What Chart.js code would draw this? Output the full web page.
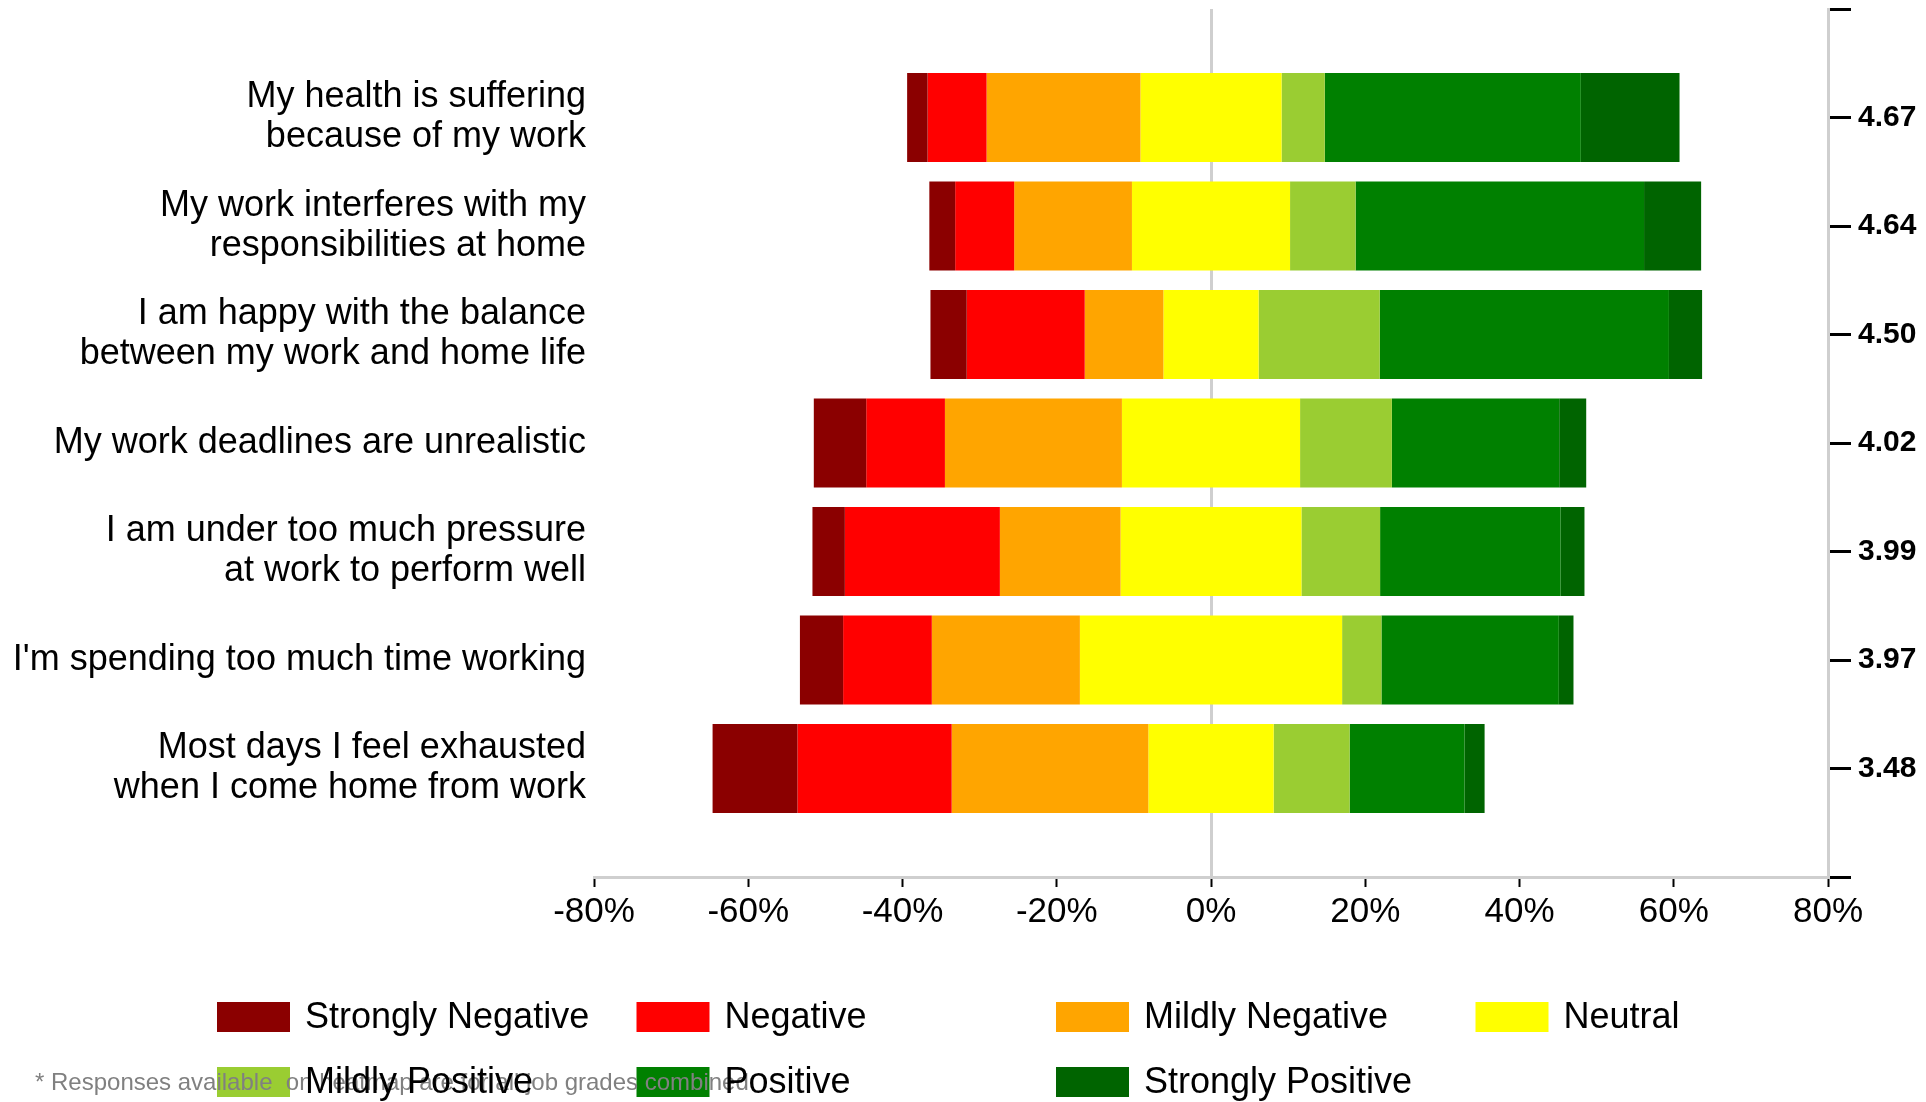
<!DOCTYPE html>
<html><head><meta charset="utf-8">
<script src="https://cdn.jsdelivr.net/npm/chart.js@4.4.1/dist/chart.umd.min.js"></script>
<style>html,body{margin:0;padding:0;background:#fff;}#wrap{position:relative;width:1926px;height:1102px;}</style>
</head><body><div id="wrap"><canvas id="c"></canvas></div>
<script>
// ---- data (top row first) ----
const categories = [
  ["My health is suffering", "because of my work"],
  ["My work interferes with my", "responsibilities at home"],
  ["I am happy with the balance", "between my work and home life"],
  "My work deadlines are unrealistic",
  ["I am under too much pressure", "at work to perform well"],
  "I'm spending too much time working",
  ["Most days I feel exhausted", "when I come home from work"]
];
const meanScores = ["4.67", "4.64", "4.50", "4.02", "3.99", "3.97", "3.48"];
const seriesNames = ["Strongly Negative", "Negative", "Mildly Negative", "Neutral", "Mildly Positive", "Positive", "Strongly Positive"];
const seriesColors = ["#8B0000", "#FF0000", "#FFA500", "#FFFF00", "#9ACD32", "#008000", "#006400"];
const stronglyNegative = [2.65, 3.35, 4.7, 6.8, 4.2, 5.6, 11.0];
const negative         = [7.65, 7.65, 15.3, 10.2, 20.1, 11.5, 20.0];
const mildlyNegative   = [19.95, 15.27, 10.2, 22.95, 15.65, 19.2, 25.5];
const neutral          = [18.3, 20.5, 12.35, 23.1, 23.45, 34.0, 16.25];
const mildlyPositive   = [5.6, 8.5, 15.7, 11.9, 10.2, 5.1, 9.85];
const positive         = [33.2, 37.4, 37.5, 21.7, 23.4, 23.0, 14.9];
const stronglyPositive = [12.8, 7.4, 4.3, 3.5, 3.1, 1.9, 2.6];
const xTickValues = [-80, -60, -40, -20, 0, 20, 40, 60, 80];
const footnote = "* Responses available  on heatmap are for all job grades combined";

// ---- build floating bars (diverging around neutral midpoint) ----
const series = [stronglyNegative, negative, mildlyNegative, neutral, mildlyPositive, positive, stronglyPositive];
const ranges = series.map(() => [null]);
categories.forEach((_, i) => {
  const h = neutral[i] / 2;
  let left = -h;
  [2, 1, 0].forEach(k => { ranges[k].push([left - series[k][i], left]); left -= series[k][i]; });
  ranges[3].push([-h, h]);
  let right = h;
  [4, 5, 6].forEach(k => { ranges[k].push([right, right + series[k][i]]); right += series[k][i]; });
});
ranges.forEach(r => r.push(null));
const yLabels = [""].concat(categories, [""]);
const y2Labels = [""].concat(meanScores, [""]);

const FONT = "'Liberation Sans', Arial, Helvetica, sans-serif";
Chart.defaults.font.family = FONT;
Chart.defaults.color = "#000";

const legendPlugin = {
  id: "customLegend",
  afterDraw(chart) {
    const ctx = chart.ctx;
    ctx.save();
    const items = chart.data.datasets.map((d, i) => ({
      text: d.label, color: d.backgroundColor,
      x: 217 + (i % 4) * 419.5, y: 1002 + Math.floor(i / 4) * 65
    }));
    items.forEach(it => { ctx.fillStyle = it.color; ctx.fillRect(it.x, it.y, 73, 30); });
    ctx.fillStyle = "#808080";
    ctx.font = "24px " + FONT;
    ctx.textBaseline = "alphabetic";
    ctx.textAlign = "left";
    ctx.fillText(footnote, 35, 1090);
    ctx.fillStyle = "#000";
    ctx.font = "36px " + FONT;
    ctx.textBaseline = "middle";
    items.forEach(it => ctx.fillText(it.text, it.x + 88, it.y + 16));
    ctx.restore();
  }
};

new Chart(document.getElementById("c"), {
  type: "bar",
  data: {
    labels: yLabels,
    datasets: seriesNames.map((name, k) => ({
      label: name,
      data: ranges[k],
      backgroundColor: seriesColors[k],
      borderWidth: 0,
      grouped: false,
      categoryPercentage: 1,
      barPercentage: 0.82
    }))
  },
  options: {
    indexAxis: "y",
    responsive: true,
    maintainAspectRatio: false,
    animation: false,
    layout: { padding: { top: 9, bottom: 165, left: 0, right: 0 } },
    plugins: { legend: { display: false }, tooltip: { enabled: false } },
    scales: {
      x: {
        type: "linear", min: -80, max: 80,
        afterBuildTicks: s => { s.ticks = xTickValues.map(v => ({ value: v })); },
        afterFit: s => { s.height = 60; s.paddingLeft = 0; s.paddingRight = 0; },
        ticks: { callback: v => v + "%", font: { size: 35 }, color: "#000", padding: 4, maxRotation: 0, autoSkip: false },
        grid: {
          color: c => (c.tick && c.tick.value === 0) ? "#cfcfcf" : "rgba(0,0,0,0)",
          lineWidth: 3, tickColor: "#000", tickLength: 10, tickWidth: 2
        },
        border: { display: true, color: "#cfcfcf", width: 3 }
      },
      y: {
        type: "category", position: "left", offset: false,
        afterFit: s => { s.width = 594; s.paddingTop = 0; s.paddingBottom = 0; },
        ticks: { font: { size: 36, lineHeight: 40 / 36 }, color: "#000", padding: 8, autoSkip: false },
        grid: { display: false, drawTicks: false, offset: false },
        border: { display: false }
      },
      y2: {
        type: "category", position: "right", offset: false, labels: y2Labels,
        afterFit: s => { s.width = 98; s.paddingTop = 0; s.paddingBottom = 0; },
        ticks: { font: { size: 30, weight: "bold" }, color: "#000", padding: 7, autoSkip: false },
        grid: { offset: false, drawOnChartArea: false, tickColor: "#000", tickLength: 23, tickWidth: 3 },
        border: { display: true, color: "#cfcfcf", width: 3 }
      }
    }
  },
  plugins: [legendPlugin]
});
</script>
</body></html>
